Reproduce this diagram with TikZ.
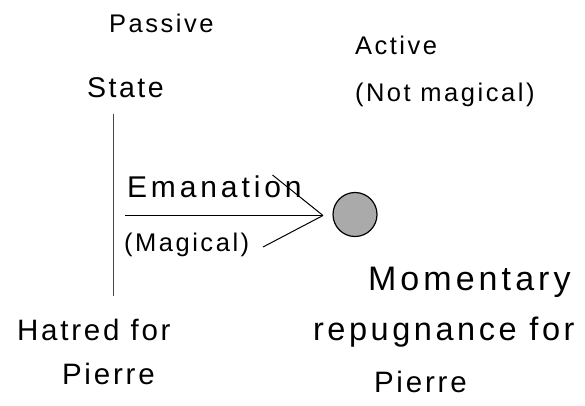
\documentclass[tikz,border=0pt]{standalone}
\usepackage{fontspec}
\setmainfont{Liberation Sans}
\usetikzlibrary{positioning}
\definecolor{ash}{RGB}{170, 170, 170}
\definecolor{graphite}{RGB}{70, 70, 70}
\tikzset{label/.style={anchor=base west,inner sep=0pt,outer sep=0pt}}
\tikzset{small/.style={label,font=\fontsize{25.5}{30}\selectfont\addfontfeature{LetterSpace=10}}}
\tikzset{large/.style={label,font=\fontsize{29.5}{35}\selectfont\addfontfeature{LetterSpace=9.5}}}
\tikzset{thin/.style={black,line width=1pt}}

\begin{document}
\begin{tikzpicture}[x=1pt,y=-1pt]
	\useasboundingbox (0,0) rectangle (585,405);
	\node[small] (passive) at (109,32) {Passive};
	\node[label,font=\fontsize{28.5}{34}\selectfont\addfontfeature{LetterSpace=9}] (state) at (87,97) {State};
	\node[small] (active) at (355,54) {Active};
	\node[small] (notmagic) at (355,101) {(Not magical)};
	\node[label,font=\fontsize{30}{35}\selectfont\addfontfeature{LetterSpace=13}] (emanation) at (127,197) {Emanation};
	\node[small] (magical) at (124,251) {(Magical)};
	\node[large] (hatred) at (17,340) {Hatred for};
	\node[large] (pierreL) at (62,384) {Pierre};
	\node[label,font=\fontsize{34}{40}\selectfont\addfontfeature{LetterSpace=12}] (momentary) at (368,290) {Momentary};
	\node[label,font=\fontsize{32.5}{38}\selectfont\addfontfeature{LetterSpace=11}] (repugnance) at (313,340) {repugnance for};
	\node[large] (pierreR) at (374,392) {Pierre};
	\node[circle,draw=black,line width=1.2pt,fill=ash,minimum size=44pt,inner sep=0pt] (feeling) at (355,214.5) {};
	\coordinate (linetop) at (113.5,114);
	\coordinate (linebot) at (113.5,296);
	\coordinate (tail) at (125,215.5);
	\coordinate (tip) at (323,215.5);
	\coordinate (upper) at (272.5,175);
	\coordinate (lower) at (263,247);
	\draw[graphite,line width=1.5pt] (linetop) -- (linebot);
	\draw[thin] (tail) -- (tip);
	\draw[thin] (upper) -- (tip);
	\draw[thin] (lower) -- (tip);
\end{tikzpicture}
\end{document}
